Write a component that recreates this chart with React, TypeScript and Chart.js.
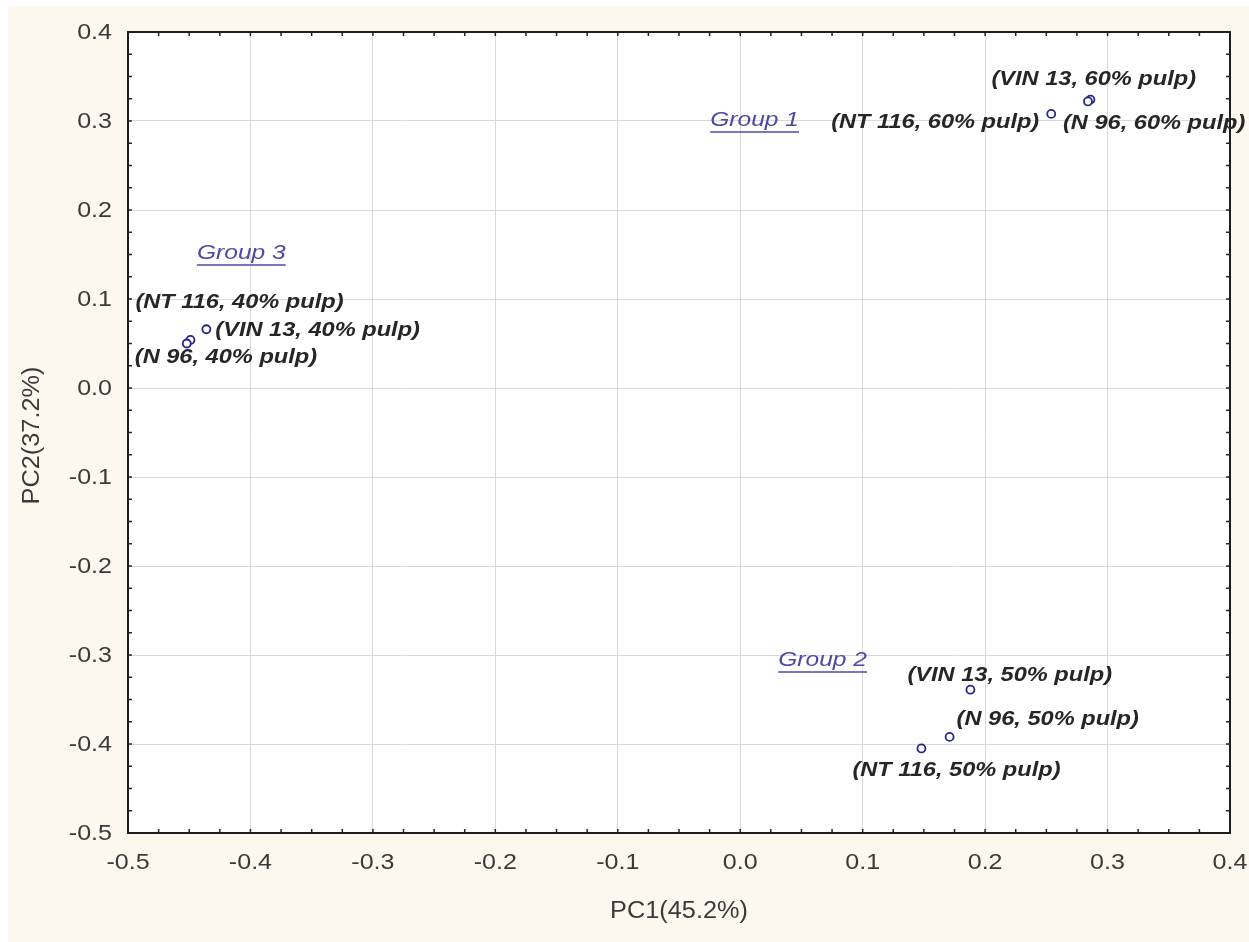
import React, { useEffect, useRef } from "react";
import { Chart, registerables } from "chart.js";

Chart.register(...registerables);

// ---- data ----
const sampleLabels = [
  "(VIN 13, 60% pulp)",
  "(NT 116, 60% pulp)",
  "(N 96, 60% pulp)",
  "(NT 116, 40% pulp)",
  "(VIN 13, 40% pulp)",
  "(N 96, 40% pulp)",
  "(VIN 13, 50% pulp)",
  "(N 96, 50% pulp)",
  "(NT 116, 50% pulp)",
];
const pc1Values = [0.286, 0.254, 0.284, -0.449, -0.436, -0.452, 0.188, 0.171, 0.148];
const pc2Values = [0.324, 0.308, 0.322, 0.054, 0.066, 0.05, -0.339, -0.392, -0.405];

const groupNames = ["Group 1", "Group 2", "Group 3"];
const groupPc1 = [-0.0245, 0.031, -0.4437];
const groupPc2 = [0.301, -0.3056, 0.1517];

const xTitle = "PC1(45.2%)";
const yTitle = "PC2(37.2%)";
const axisMin = -0.5;
const axisMax = 0.4;
const majorStep = 0.1;
const minorStep = 0.025;

// ---- label layout (pixel offsets from the point, alignment) ----
const labelLayout: { dx: number; dy: number; align: "left" | "right" }[] = [
  { dx: -99, dy: -20, align: "left" },
  { dx: -12, dy: 9, align: "right" },
  { dx: -25, dy: 22, align: "left" },
  { dx: -55, dy: -37, align: "left" },
  { dx: 9, dy: 1, align: "left" },
  { dx: -52, dy: 14, align: "left" },
  { dx: -63, dy: -14, align: "left" },
  { dx: 7, dy: -17, align: "left" },
  { dx: -69, dy: 22, align: "left" },
];

const FONT_FAMILY = '"Liberation Sans", Arial, sans-serif';

function drawStretched(
  ctx: CanvasRenderingContext2D,
  text: string,
  x: number,
  y: number,
  align: "left" | "right" | "center",
  sx: number,
  rotate = 0
) {
  const w = ctx.measureText(text).width * sx;
  const start = align === "right" ? -w : align === "center" ? -w / 2 : 0;
  ctx.save();
  ctx.translate(x, y);
  if (rotate) ctx.rotate(rotate);
  ctx.translate(start, 0);
  ctx.scale(sx, 1);
  ctx.textAlign = "left";
  ctx.fillText(text, 0, 0);
  ctx.restore();
  return { left: x + start, w };
}

const fmt = (v: number) => (Math.round(v * 10) / 10).toFixed(1);

const decorPlugin = {
  id: "decor",
  beforeDraw(chart: any) {
    const { ctx, chartArea, width, height } = chart;
    ctx.save();
    ctx.fillStyle = "#fcf8ee";
    ctx.fillRect(0, 0, width, height);
    ctx.fillStyle = "#ffffff";
    ctx.fillRect(chartArea.left, chartArea.top, chartArea.right - chartArea.left, chartArea.bottom - chartArea.top);
    ctx.restore();
  },
  afterDatasetsDraw(chart: any) {
    const { ctx, chartArea } = chart;
    const xs = chart.scales.x;
    const ys = chart.scales.y;
    const { left, right, top, bottom } = chartArea;
    ctx.save();
    // tick marks inward on all four sides
    ctx.strokeStyle = "#222";
    ctx.lineWidth = 1.5;
    const n = Math.round((axisMax - axisMin) / minorStep);
    for (let i = 1; i < n; i++) {
      const v = axisMin + i * minorStep;
      const px = xs.getPixelForValue(v);
      const py = ys.getPixelForValue(v);
      ctx.beginPath();
      ctx.moveTo(px, bottom);
      ctx.lineTo(px, bottom - 4);
      ctx.moveTo(px, top);
      ctx.lineTo(px, top + 4);
      ctx.moveTo(left, py);
      ctx.lineTo(left + 4, py);
      ctx.moveTo(right, py);
      ctx.lineTo(right - 4, py);
      ctx.stroke();
    }
    // frame
    ctx.lineWidth = 2;
    ctx.strokeStyle = "#1e1e1e";
    ctx.strokeRect(left, top, right - left, bottom - top);

    // tick labels
    ctx.font = `22px ${FONT_FAMILY}`;
    ctx.fillStyle = "#3a3a3a";
    ctx.textBaseline = "middle";
    xs.ticks.forEach((t: any) => {
      drawStretched(ctx, fmt(t.value), xs.getPixelForValue(t.value), bottom + 30, "center", 1.14);
    });
    ys.ticks.forEach((t: any) => {
      drawStretched(ctx, fmt(t.value), left - 16, ys.getPixelForValue(t.value) + 1, "right", 1.14);
    });

    // axis titles
    ctx.font = `23px ${FONT_FAMILY}`;
    drawStretched(ctx, xTitle, (left + right) / 2, bottom + 79, "center", 1.1);
    drawStretched(ctx, yTitle, 25, (top + bottom) / 2 + 3, "center", 1.1, -Math.PI / 2);

    // sample labels
    ctx.font = `italic bold 20px ${FONT_FAMILY}`;
    ctx.fillStyle = "#262626";
    for (let i = 0; i < sampleLabels.length; i++) {
      const px = xs.getPixelForValue(pc1Values[i]);
      const py = ys.getPixelForValue(pc2Values[i]);
      const l = labelLayout[i];
      drawStretched(ctx, sampleLabels[i], px + l.dx, py + l.dy, l.align, 1.18);
    }

    // group labels
    ctx.font = `italic 21px ${FONT_FAMILY}`;
    ctx.fillStyle = "#4b4ba6";
    ctx.strokeStyle = "#4b4ba6";
    ctx.lineWidth = 1.5;
    for (let i = 0; i < groupNames.length; i++) {
      const px = xs.getPixelForValue(groupPc1[i]);
      const py = ys.getPixelForValue(groupPc2[i]);
      const { left: gl, w } = drawStretched(ctx, groupNames[i], px, py, "left", 1.17);
      ctx.beginPath();
      ctx.moveTo(gl, py + 12);
      ctx.lineTo(gl + w, py + 12);
      ctx.stroke();
    }
    ctx.restore();
  },
};

export default function App() {
  const ref = useRef<HTMLCanvasElement | null>(null);
  useEffect(() => {
    if (!ref.current) return;
    const points = pc1Values.map((x, i) => ({ x, y: pc2Values[i] }));
    const chart = new Chart(ref.current, {
      type: "scatter",
      data: {
        datasets: [
          {
            label: "samples",
            data: points,
            pointStyle: "circle",
            pointRadius: 4,
            pointBorderWidth: 1.8,
            pointBorderColor: "#26268a",
            pointBackgroundColor: "#ffffff",
          },
        ],
      },
      options: {
        animation: false,
        responsive: false,
        layout: { padding: { top: 26, right: 19, left: 0, bottom: 0 } },
        plugins: { legend: { display: false }, tooltip: { enabled: false } },
        scales: {
          x: {
            type: "linear",
            min: axisMin,
            max: axisMax,
            afterFit: (s: any) => {
              s.height = 109;
              s.paddingLeft = 0;
              s.paddingRight = 0;
            },
            ticks: { display: false, stepSize: majorStep },
            grid: { color: "#d9d9d9", lineWidth: 1, drawTicks: false },
            border: { display: false },
            title: { display: false },
          },
          y: {
            type: "linear",
            min: axisMin,
            max: axisMax,
            afterFit: (s: any) => {
              s.width = 120;
              s.paddingTop = 0;
              s.paddingBottom = 0;
            },
            ticks: { display: false, stepSize: majorStep },
            grid: { color: "#d9d9d9", lineWidth: 1, drawTicks: false },
            border: { display: false },
            title: { display: false },
          },
        },
      },
      plugins: [decorPlugin],
    } as any);
    return () => chart.destroy();
  }, []);
  return (
    <div style={{ position: "absolute", left: 8, top: 6, width: 1241, height: 936 }}>
      <canvas ref={ref} width={1241} height={936} />
    </div>
  );
}
